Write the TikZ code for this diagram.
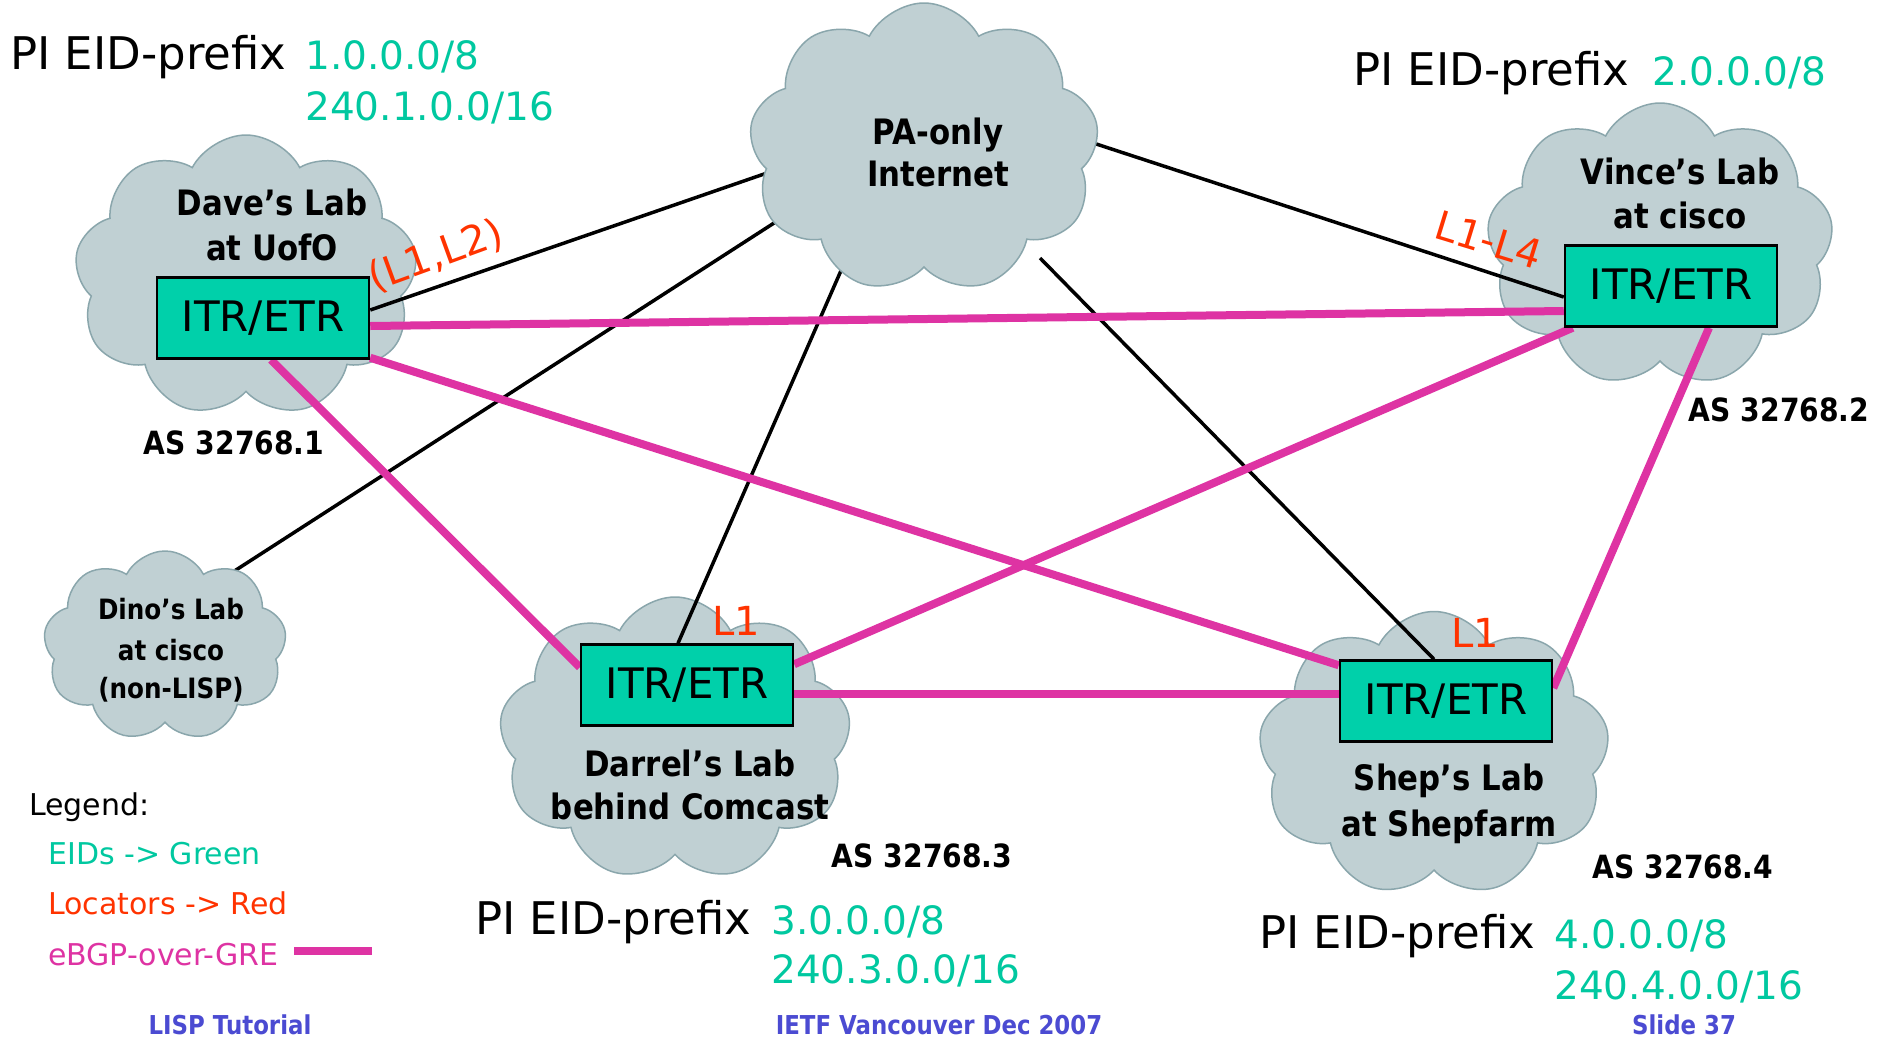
\documentclass[tikz,border=0pt]{standalone}
\usepackage{fontspec}
\setmainfont{DejaVu Sans}
\newfontfamily\labfont{DejaVu Sans}[FakeStretch=0.88]
\usetikzlibrary{shapes.symbols,calc}

\definecolor{cloudfill}{HTML}{C0D0D3}
\definecolor{cloudedge}{HTML}{8AA6AC}
\definecolor{boxgreen}{HTML}{00D0AA}
\definecolor{eidgreen}{HTML}{00C8A0}
\definecolor{locred}{HTML}{FF3300}
\definecolor{gremag}{HTML}{DE33A3}
\definecolor{footblue}{HTML}{4B4BD2}

\pgfdeclarelayer{bg}
\pgfdeclarelayer{links}
\pgfsetlayers{bg,links,main}

\begin{document}
\begin{tikzpicture}[x=1pt,y=-1pt,
  site/.style={cloud, cloud puffs=9, cloud puff arc=125, cloud ignores aspect,
    fill=cloudfill, draw=cloudedge, line width=1.5pt, inner sep=0pt, outer sep=0pt},
  router/.style={rectangle, draw=black, line width=2.5pt, fill=boxgreen,
    minimum width=212pt, minimum height=81pt, inner sep=0pt,
    font=\fontsize{42}{50}\selectfont},
  labname/.style={anchor=base, inner sep=0pt, font=\labfont\bfseries\fontsize{35}{42}\selectfont},
  dinoname/.style={anchor=base, inner sep=0pt, font=\labfont\bfseries\fontsize{28}{34}\selectfont},
  asnum/.style={anchor=base, inner sep=0pt, font=\labfont\bfseries\fontsize{32}{38}\selectfont},
  pfxtext/.style={anchor=base west, inner sep=0pt, font=\fontsize{45}{52}\selectfont},
  eidtext/.style={anchor=base west, inner sep=0pt, text=eidgreen, font=\fontsize{39}{46}\selectfont},
  loctext/.style={inner sep=0pt, text=locred, font=\fontsize{40}{46}\selectfont},
  legendtext/.style={anchor=base west, inner sep=0pt, font=\fontsize{30}{36}\selectfont},
  footertext/.style={anchor=base, inner sep=0pt, text=footblue, font=\labfont\bfseries\fontsize{26}{30}\selectfont},
  physlink/.style={draw=black, line width=3.5pt},
  grelink/.style={draw=gremag, line width=8pt}]

\useasboundingbox (0,0) rectangle (1898,1039);

% site clouds behind the links
\begin{pgfonlayer}{bg}
  \fill[white] (0,0) rectangle (1898,1039);
  \node[site, minimum width=343pt, minimum height=282pt] (dave)   at (246,276) {};
  \node[site, minimum width=347pt, minimum height=284pt] (vince)  at (1660,245) {};
  \node[site, minimum width=352pt, minimum height=284pt] (darrel) at (675,739) {};
  \node[site, minimum width=351pt, minimum height=285pt] (shep)   at (1434,754) {};
\end{pgfonlayer}

% routers
\node[router] (dbox) at (263,318) {ITR/ETR};
\node[router] (vbox) at (1671,286) {ITR/ETR};
\node[router] (rbox) at (687,685) {ITR/ETR};
\node[router] (sbox) at (1446,701) {ITR/ETR};

% attachment points inside the core cloud and the non-LISP site
\coordinate (i-dave)   at (767,173);
\coordinate (i-dino)   at (788,214);
\coordinate (i-darrel) at (857,234);
\coordinate (i-shep)   at (1040,258);
\coordinate (i-vince)  at (1084,140);
\coordinate (dino-up)  at (222,579);

\begin{pgfonlayer}{links}
  % physical uplinks to the PA-only core
  \draw[physlink] ($(dbox.east)+(0,-8)$) -- (i-dave);
  \draw[physlink] (dino-up) -- (i-dino);
  \draw[physlink] ($(rbox.north)+(-9,0)$) -- (i-darrel);
  \draw[physlink] ($(sbox.north)+(-12,0)$) -- (i-shep);
  \draw[physlink] ($(vbox.west)+(0,11)$) -- (i-vince);
  % eBGP-over-GRE mesh
  \draw[grelink] ($(dbox.east)+(0,8)$) -- ($(vbox.west)+(0,25)$);
  \draw[grelink] ($(dbox.south east)+(0,-2)$) -- ($(sbox.north west)+(0,6)$);
  \draw[grelink] ($(dbox.south)+(8,0)$) -- ($(rbox.north west)+(0,24)$);
  \draw[grelink] ($(rbox.north east)+(0,21)$) -- ($(vbox.south west)+(9,0)$);
  \draw[grelink] ($(rbox.east)+(0,9)$) -- ($(sbox.west)+(0,-7)$);
  \draw[grelink] ($(vbox.south)+(38,0)$) -- ($(sbox.east)+(0,-13)$);
\end{pgfonlayer}

% core and non-LISP clouds sit over the link ends
\node[site, minimum width=350pt, minimum height=290pt] (inet) at (924,148) {};
\node[site, minimum width=243pt, minimum height=190pt] (dino) at (165,646) {};

% cloud captions
\node[labname] (inet-t1) at (938,144) {PA-only};
\node[labname] (inet-t2) at (938,186) {Internet};
\node[labname] (dave-t1) at (272,215) {Dave’s Lab};
\node[labname] (dave-t2) at (272,260) {at UofO};
\node[labname] (vince-t1) at (1680,184) {Vince’s Lab};
\node[labname] (vince-t2) at (1680,228) {at cisco};
\node[labname] (darrel-t1) at (690,776) {Darrel’s Lab};
\node[labname] (darrel-t2) at (690,819) {behind Comcast};
\node[labname] (shep-t1) at (1449,790) {Shep’s Lab};
\node[labname] (shep-t2) at (1449,836) {at Shepfarm};
\node[dinoname] (dino-t1) at (171,619) {Dino’s Lab};
\node[dinoname] (dino-t2) at (171,660) {at cisco};
\node[dinoname] (dino-t3) at (171,698) {(non-LISP)};

% AS numbers
\node[asnum] (as1) at (234,454) {AS 32768.1};
\node[asnum] (as2) at (1779,421) {AS 32768.2};
\node[asnum] (as3) at (922,867) {AS 32768.3};
\node[asnum] (as4) at (1683,878) {AS 32768.4};

% locators
\node[loctext, rotate=20]  (loc-dave)   at (436,256) {(L1,L2)};
\node[loctext, rotate=-17] (loc-vince)  at (1489,240) {L1-L4};
\node[loctext]             (loc-darrel) at (736,621) {L1};
\node[loctext]             (loc-shep)   at (1475,633) {L1};

% PI EID prefixes
\node[pfxtext] (pi1) at (10,69) {PI EID-prefix};
\node[eidtext] (pi1a) at (305,69) {1.0.0.0/8};
\node[eidtext] (pi1b) at (305,120) {240.1.0.0/16};
\node[pfxtext] (pi2) at (1353,85) {PI EID-prefix};
\node[eidtext] (pi2a) at (1652,85) {2.0.0.0/8};
\node[pfxtext] (pi3) at (475,934) {PI EID-prefix};
\node[eidtext] (pi3a) at (771,934) {3.0.0.0/8};
\node[eidtext] (pi3b) at (771,983) {240.3.0.0/16};
\node[pfxtext] (pi4) at (1259,948) {PI EID-prefix};
\node[eidtext] (pi4a) at (1554,948) {4.0.0.0/8};
\node[eidtext] (pi4b) at (1554,999) {240.4.0.0/16};

% legend
\node[legendtext] (leg0) at (29,815) {Legend:};
\node[legendtext, text=eidgreen] (leg1) at (48,864) {EIDs -> Green};
\node[legendtext, text=locred] (leg2) at (48,914) {Locators -> Red};
\node[legendtext, text=gremag] (leg3) at (48,965) {eBGP-over-GRE};
\coordinate (legA) at (294,951);
\coordinate (legB) at (372,951);
\draw[grelink] (legA) -- (legB);

% footer
\node[footertext] (foot1) at (230,1034) {LISP Tutorial};
\node[footertext] (foot2) at (939,1034) {IETF Vancouver Dec 2007};
\node[footertext] (foot3) at (1684,1034) {Slide 37};
\end{tikzpicture}
\end{document}
